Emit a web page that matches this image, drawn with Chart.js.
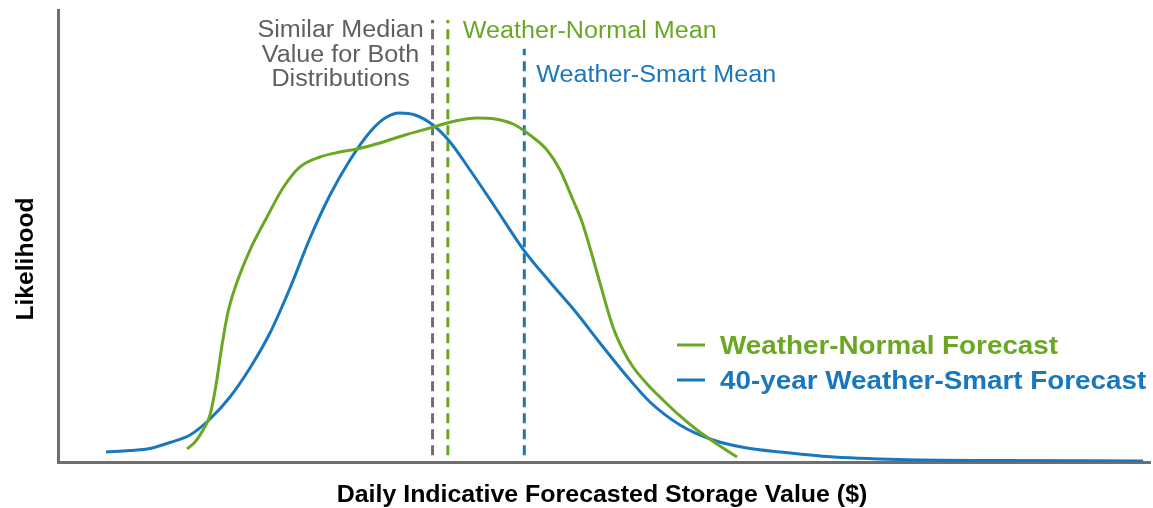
<!DOCTYPE html>
<html>
<head>
<meta charset="utf-8">
<script src="https://cdn.jsdelivr.net/npm/chart.js@4.4.1/dist/chart.umd.min.js"></script>
<style>
  body { margin: 0; background: #fff; }
  #wrap { width: 1153px; height: 508px; position: relative; }
</style>
</head>
<body>
<div id="wrap"><canvas id="distChart"></canvas></div>
<script>
// storage value (arbitrary 0-100 units) and likelihood (0-100)
const normalX = [11.81, 12.55, 13.28, 13.92, 14.47, 15.02, 15.57, 16.30, 17.58, 19.14, 20.60, 22.16, 23.99, 25.82, 27.38, 29.49, 31.78, 34.07, 36.36, 38.37, 40.02, 41.67, 43.22, 44.78, 45.97, 47.16, 47.99, 48.72, 49.63, 50.82, 51.74, 52.66, 54.03, 55.40, 56.96, 58.52, 60.35, 62.18];
const normalY = [2.88, 4.42, 7.08, 10.40, 17.04, 25.88, 33.19, 39.16, 46.90, 54.20, 60.62, 65.27, 67.48, 68.58, 69.25, 70.58, 72.35, 73.89, 75.44, 76.11, 75.88, 74.78, 72.35, 69.03, 64.60, 57.96, 53.10, 47.35, 39.60, 29.87, 24.78, 21.02, 17.04, 13.72, 10.18, 7.08, 3.98, 1.11];

const smartX = [4.40, 6.59, 8.42, 10.26, 12.09, 13.92, 15.75, 17.58, 19.41, 21.25, 23.08, 24.91, 26.74, 28.57, 29.95, 31.32, 32.69, 34.34, 35.90, 37.73, 40.02, 42.58, 45.05, 47.34, 49.63, 51.92, 54.21, 56.96, 59.98, 63.10, 66.12, 70.42, 77.11, 86.26, 99.36];
const smartY = [2.21, 2.54, 2.99, 4.31, 5.97, 9.51, 14.38, 20.80, 28.54, 38.50, 49.56, 59.07, 66.81, 73.01, 76.11, 77.21, 76.77, 74.56, 70.80, 64.60, 56.42, 47.12, 39.82, 33.41, 26.33, 19.47, 13.27, 8.19, 4.87, 3.10, 2.21, 1.22, 0.55, 0.33, 0.22];

const seriesNames = ['Weather-Normal Forecast', '40-year Weather-Smart Forecast'];

// vertical marker lines: median, normal mean, smart mean
const markerNames = ['Median', 'Weather-Normal Mean', 'Weather-Smart Mean'];
const markerX = [34.3, 35.7, 42.7];
const markerTop = [97.8, 97.8, 91.4];
const markerBottom = 1.5;
const medianText = ['Similar Median', 'Value for Both', 'Distributions'];

const xTitle = 'Daily Indicative Forecasted Storage Value ($)';
const yTitle = 'Likelihood';

const GREEN = '#6aa823';
const BLUE = '#1877bd';
const GRAY = '#6e6e6e';
const FONT = '"Liberation Sans", Arial, sans-serif';
const STRETCH = 1.07;

function toPoints(xs, ys) {
    return xs.map((v, i) => ({ x: v, y: ys[i] }));
}

function putText(ctx, str, px, py, font, color, align, angle) {
    ctx.save();
    ctx.translate(px, py);
    if (angle) ctx.rotate(angle);
    ctx.scale(STRETCH, 1);
    ctx.font = font;
    ctx.fillStyle = color;
    ctx.textAlign = align;
    ctx.textBaseline = 'alphabetic';
    ctx.fillText(str, 0, 0);
    ctx.restore();
}

// texts, legend and axis titles
const annotate = {
    id: 'annotate',
    afterDraw(chart) {
        const { ctx, chartArea } = chart;
        const xs = chart.scales.x;
        const medPx = xs.getPixelForValue(markerX[0]);
        const normPx = xs.getPixelForValue(markerX[1]);
        const smartPx = xs.getPixelForValue(markerX[2]);

        const f23 = '23.5px ' + FONT;
        medianText.forEach((t, i) => {
            putText(ctx, t, medPx - 92, 37 + i * 24.5, f23, '#5f5f5f', 'center');
        });
        putText(ctx, markerNames[1], normPx + 15, 38, f23, GREEN, 'left');
        putText(ctx, markerNames[2], smartPx + 12, 82, f23, BLUE, 'left');

        // legend
        const colors = [GREEN, BLUE];
        seriesNames.forEach((name, i) => {
            const ly = 345 + i * 35;
            ctx.save();
            ctx.strokeStyle = colors[i];
            ctx.lineWidth = 3;
            ctx.beginPath();
            ctx.moveTo(677, ly);
            ctx.lineTo(705, ly);
            ctx.stroke();
            ctx.restore();
            putText(ctx, name, 720, ly + 9, 'bold 26px ' + FONT, colors[i], 'left');
        });

        // axis titles
        putText(ctx, xTitle, (chartArea.left + chartArea.right) / 2 - 2, 502, 'bold 23.3px ' + FONT, '#000', 'center');
        putText(ctx, yTitle, 33, (chartArea.top + chartArea.bottom) / 2 + 23, 'bold 23px ' + FONT, '#000', 'center', -Math.PI / 2);
    }
};

const markerColors = [GRAY, GREEN, BLUE];
const markerSets = markerX.map((mx, i) => ({
    label: markerNames[i],
    data: [{ x: mx, y: markerBottom }, { x: mx, y: markerTop[i] }],
    borderColor: markerColors[i],
    borderWidth: 3,
    borderDash: [10, 6],
    pointRadius: 0,
    fill: false
}));

new Chart(document.getElementById('distChart'), {
    type: 'line',
    data: {
        datasets: [
            {
                label: seriesNames[0],
                data: toPoints(normalX, normalY),
                borderColor: GREEN,
                borderWidth: 3,
                pointRadius: 0,
                cubicInterpolationMode: 'monotone',
                fill: false
            },
            {
                label: seriesNames[1],
                data: toPoints(smartX, smartY),
                borderColor: BLUE,
                borderWidth: 3,
                pointRadius: 0,
                cubicInterpolationMode: 'monotone',
                fill: false
            },
            ...markerSets
        ]
    },
    options: {
        responsive: true,
        maintainAspectRatio: false,
        animation: false,
        layout: { padding: { left: 50, top: 10, right: 3, bottom: 38 } },
        scales: {
            x: {
                type: 'linear',
                min: 0,
                max: 100,
                grid: { display: false },
                ticks: { display: false },
                border: { display: true, color: GRAY, width: 3 }
            },
            y: {
                min: 0,
                max: 100,
                grid: { display: false },
                ticks: { display: false },
                border: { display: true, color: GRAY, width: 3 }
            }
        },
        plugins: {
            legend: { display: false },
            tooltip: { enabled: false }
        }
    },
    plugins: [annotate]
});
</script>
</body>
</html>
